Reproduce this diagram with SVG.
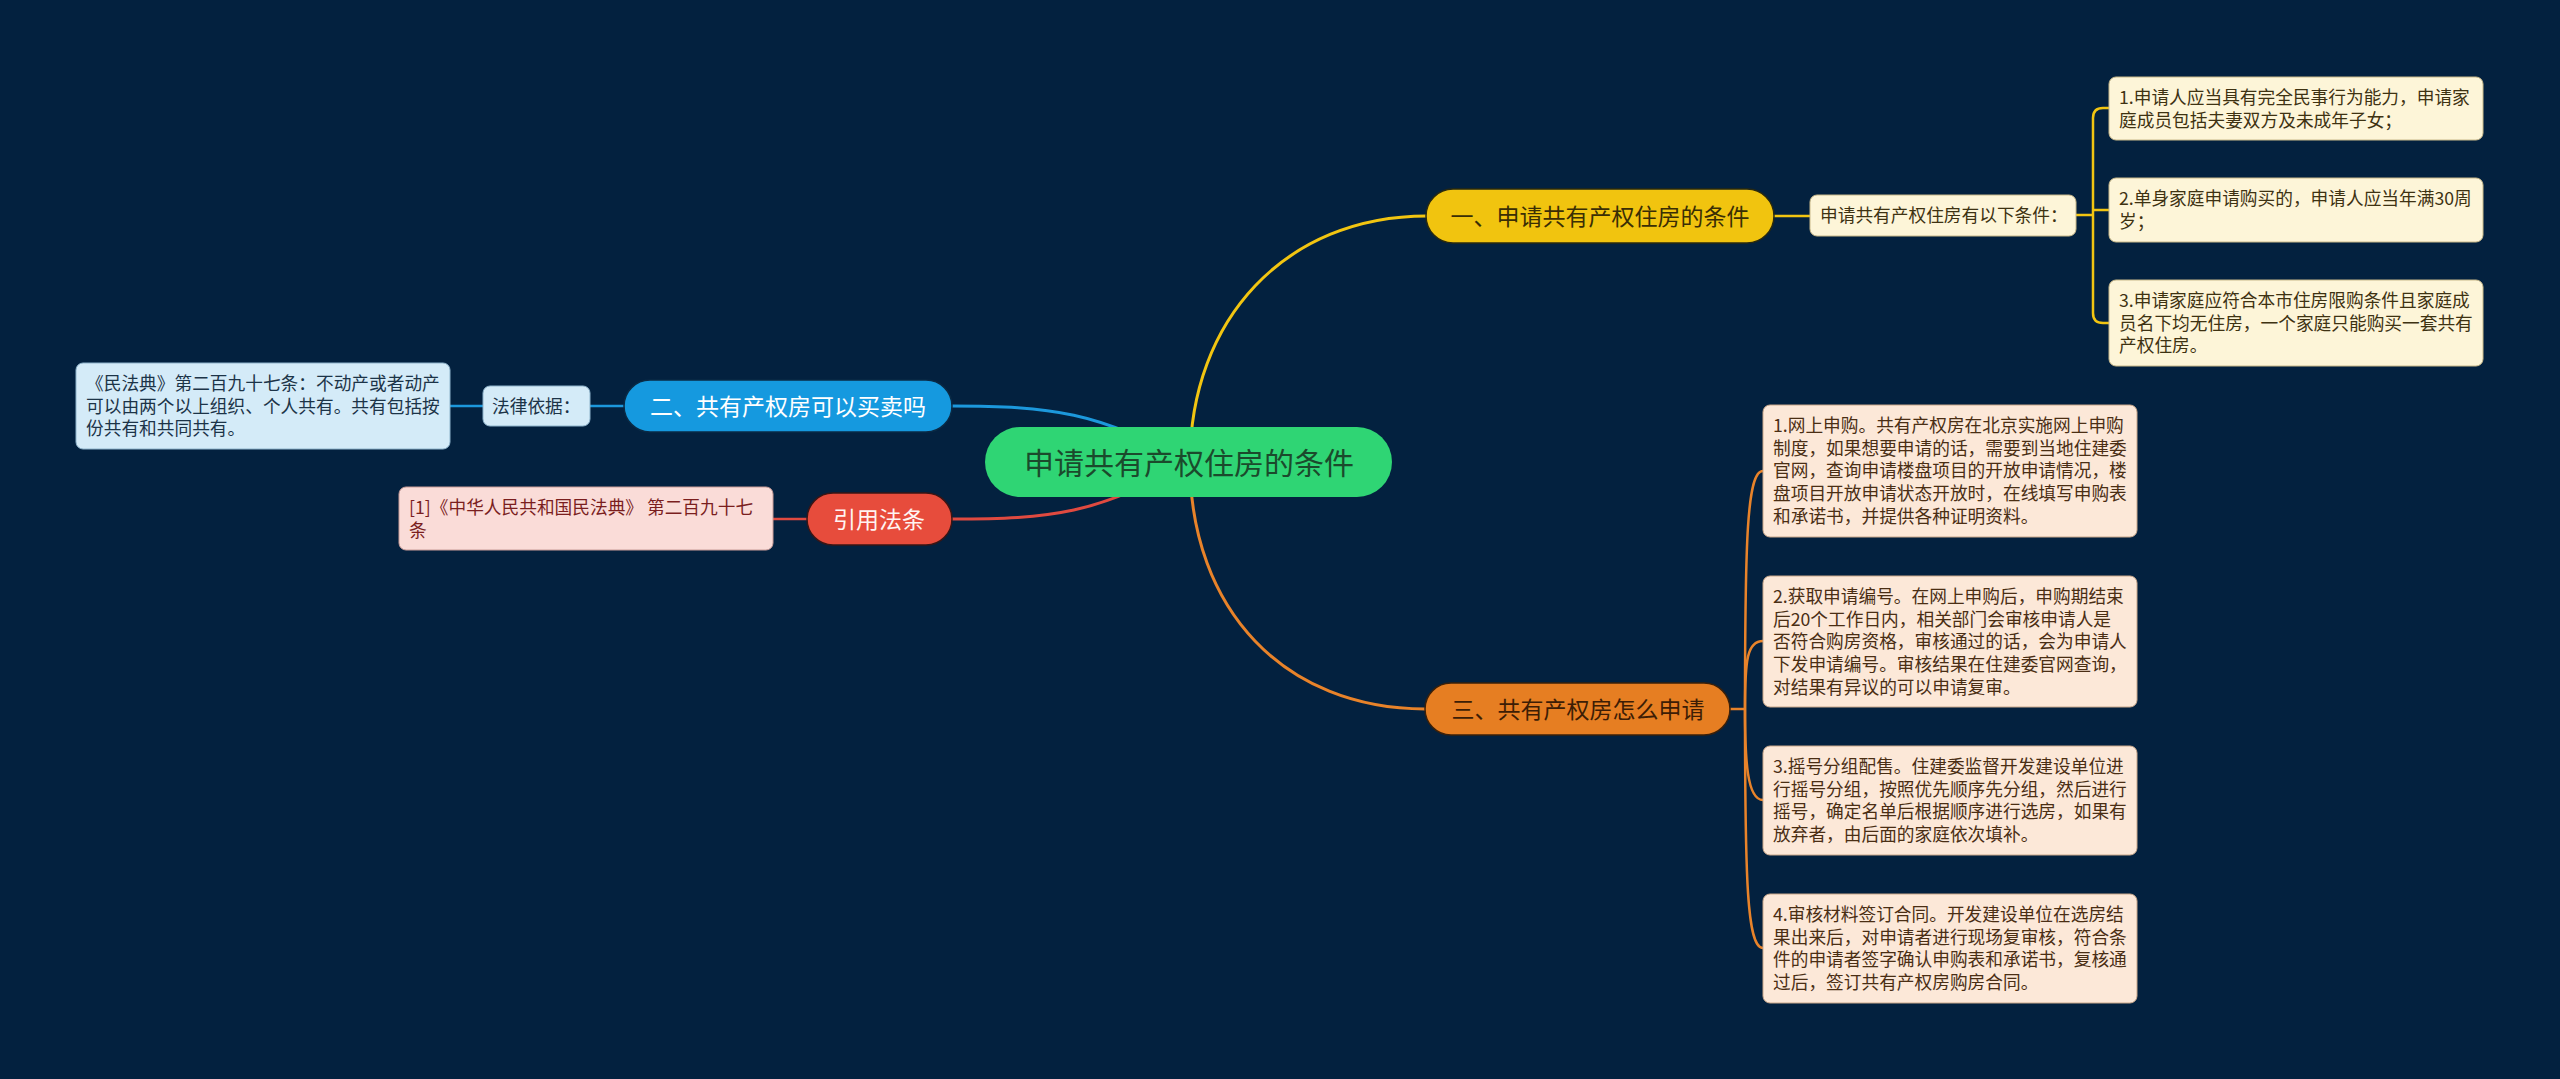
<svg xmlns="http://www.w3.org/2000/svg" width="2560" height="1079" viewBox="0 0 2560 1079">
<style>
text{font-family:"Noto Sans CJK SC","Liberation Sans",sans-serif}
.lf{font-size:17.7px}
.tp{font-size:23px}
.c{fill:none;stroke-width:3;stroke-linecap:round}
.cs{fill:none;stroke-width:2.5}
.y{stroke:#f2c511}
.o{stroke:#e8832a}
.b{stroke:#1c98dc}
.r{stroke:#e04a40}
.yl{fill:#fdf5d8;stroke:#c9b98a;stroke-width:1}
.ol{fill:#fce8d8;stroke:#c9a78a;stroke-width:1}
.bl{fill:#d4ebf8;stroke:#8fb4cc;stroke-width:1}
.rl{fill:#fadcd8;stroke:#c99c98;stroke-width:1}
</style>
<rect width="2560" height="1079" fill="#03213f"/>
<g id="connectors">
<path class="c y" d="M1190,462 C1190,320 1285,216 1427,216"/>
<path class="c o" d="M1190,462 C1190,610 1285,709 1425,709"/>
<path class="c b" d="M1188,462 C1100,412 1050,406 952,406"/>
<path class="c r" d="M1188,462 C1100,514 1050,519 952,519"/>
<path class="cs y" d="M1772,216 L1810,216"/>
<path class="cs y" d="M2076,215 L2093,215 M2109,108 L2103,108 Q2093,108 2093,118 L2093,313 Q2093,323 2103,323 L2109,323 M2093,210 L2109,210"/>
<path class="cs o" d="M1730,709 L1745,709"/>
<path class="cs o" d="M1745,709 C1745,540 1747,471 1763,471"/>
<path class="cs o" d="M1745,709 C1745,660 1747,641 1763,641"/>
<path class="cs o" d="M1745,709 C1745,760 1747,800 1763,800"/>
<path class="cs o" d="M1745,709 C1745,880 1747,948 1763,948"/>
<path class="cs b" d="M624,406 L590,406 M483,406 L450,406"/>
<path class="cs r" d="M807,519 L773,519"/>
</g>
<g id="root">
<rect x="985" y="427" width="407" height="70" rx="35" fill="#2fd574"/>
<text x="1189" y="474" font-size="30" text-anchor="middle" fill="#1b4a2c">申请共有产权住房的条件</text>
</g>
<g id="topic1">
<rect x="1426" y="189" width="348" height="54" rx="27" fill="#f1c40f" stroke="#2a2a10" stroke-width="1.5"/>
<text class="tp" x="1600" y="225" text-anchor="middle" fill="#3a2e05">一、申请共有产权住房的条件</text>
</g>
<g id="sub1">
<rect x="1810" y="195" width="266" height="41" rx="7" class="yl"/>
<text class="lf" x="1820" y="222" fill="#3e3212">申请共有产权住房有以下条件：</text>
</g>
<g id="leaf1-1">
<rect x="2109" y="77" width="374" height="63" rx="7" class="yl"/>
<text class="lf" fill="#3e3212"><tspan x="2119" y="104">1.申请人应当具有完全民事行为能力，申请家</tspan><tspan x="2119" y="126.7">庭成员包括夫妻双方及未成年子女；</tspan></text>
</g>
<g id="leaf1-2">
<rect x="2109" y="178" width="374" height="64" rx="7" class="yl"/>
<text class="lf" fill="#3e3212"><tspan x="2119" y="205">2.单身家庭申请购买的，申请人应当年满30周</tspan><tspan x="2119" y="227.7">岁；</tspan></text>
</g>
<g id="leaf1-3">
<rect x="2109" y="280" width="374" height="86" rx="7" class="yl"/>
<text class="lf" fill="#3e3212"><tspan x="2119" y="307">3.申请家庭应符合本市住房限购条件且家庭成</tspan><tspan x="2119" y="329.7">员名下均无住房，一个家庭只能购买一套共有</tspan><tspan x="2119" y="352.4">产权住房。</tspan></text>
</g>
<g id="topic2">
<rect x="624" y="380" width="328" height="52" rx="26" fill="#1599df" stroke="#0a2a45" stroke-width="1.5"/>
<text class="tp" x="788" y="415" text-anchor="middle" fill="#ffffff">二、共有产权房可以买卖吗</text>
</g>
<g id="sub2">
<rect x="483" y="386" width="107" height="40" rx="7" class="bl"/>
<text class="lf" x="492" y="413" fill="#1c3448">法律依据：</text>
</g>
<g id="leaf2-1">
<rect x="76" y="363" width="374" height="86" rx="7" class="bl"/>
<text class="lf" fill="#1c3448"><tspan x="86" y="390">《民法典》第二百九十七条：不动产或者动产</tspan><tspan x="86" y="412.7">可以由两个以上组织、个人共有。共有包括按</tspan><tspan x="86" y="435.4">份共有和共同共有。</tspan></text>
</g>
<g id="topic4">
<rect x="807" y="493" width="145" height="52" rx="26" fill="#e74c3c" stroke="#3a1515" stroke-width="1.5"/>
<text class="tp" x="879" y="528" text-anchor="middle" fill="#fff4f2">引用法条</text>
</g>
<g id="leaf4-1">
<rect x="399" y="487" width="374" height="63" rx="7" class="rl"/>
<text class="lf" fill="#7a1e1e"><tspan x="409" y="514">[1]《中华人民共和国民法典》 第二百九十七</tspan><tspan x="409" y="536.7">条</tspan></text>
</g>
<g id="topic3">
<rect x="1425" y="683" width="305" height="52" rx="26" fill="#e67e22" stroke="#3a200a" stroke-width="1.5"/>
<text class="tp" x="1578" y="718" text-anchor="middle" fill="#3d1d05">三、共有产权房怎么申请</text>
</g>
<g id="leaf3-1">
<rect x="1763" y="405" width="374" height="132" rx="7" class="ol"/>
<text class="lf" fill="#4a2e14"><tspan x="1773" y="432">1.网上申购。共有产权房在北京实施网上申购</tspan><tspan x="1773" y="454.7">制度，如果想要申请的话，需要到当地住建委</tspan><tspan x="1773" y="477.4">官网，查询申请楼盘项目的开放申请情况，楼</tspan><tspan x="1773" y="500.1">盘项目开放申请状态开放时，在线填写申购表</tspan><tspan x="1773" y="522.8">和承诺书，并提供各种证明资料。</tspan></text>
</g>
<g id="leaf3-2">
<rect x="1763" y="576" width="374" height="131" rx="7" class="ol"/>
<text class="lf" fill="#4a2e14"><tspan x="1773" y="603">2.获取申请编号。在网上申购后，申购期结束</tspan><tspan x="1773" y="625.7">后20个工作日内，相关部门会审核申请人是</tspan><tspan x="1773" y="648.4">否符合购房资格，审核通过的话，会为申请人</tspan><tspan x="1773" y="671.1">下发申请编号。审核结果在住建委官网查询，</tspan><tspan x="1773" y="693.8">对结果有异议的可以申请复审。</tspan></text>
</g>
<g id="leaf3-3">
<rect x="1763" y="746" width="374" height="109" rx="7" class="ol"/>
<text class="lf" fill="#4a2e14"><tspan x="1773" y="773">3.摇号分组配售。住建委监督开发建设单位进</tspan><tspan x="1773" y="795.7">行摇号分组，按照优先顺序先分组，然后进行</tspan><tspan x="1773" y="818.4">摇号，确定名单后根据顺序进行选房，如果有</tspan><tspan x="1773" y="841.1">放弃者，由后面的家庭依次填补。</tspan></text>
</g>
<g id="leaf3-4">
<rect x="1763" y="894" width="374" height="109" rx="7" class="ol"/>
<text class="lf" fill="#4a2e14"><tspan x="1773" y="921">4.审核材料签订合同。开发建设单位在选房结</tspan><tspan x="1773" y="943.7">果出来后，对申请者进行现场复审核，符合条</tspan><tspan x="1773" y="966.4">件的申请者签字确认申购表和承诺书，复核通</tspan><tspan x="1773" y="989.1">过后，签订共有产权房购房合同。</tspan></text>
</g>
</svg>
